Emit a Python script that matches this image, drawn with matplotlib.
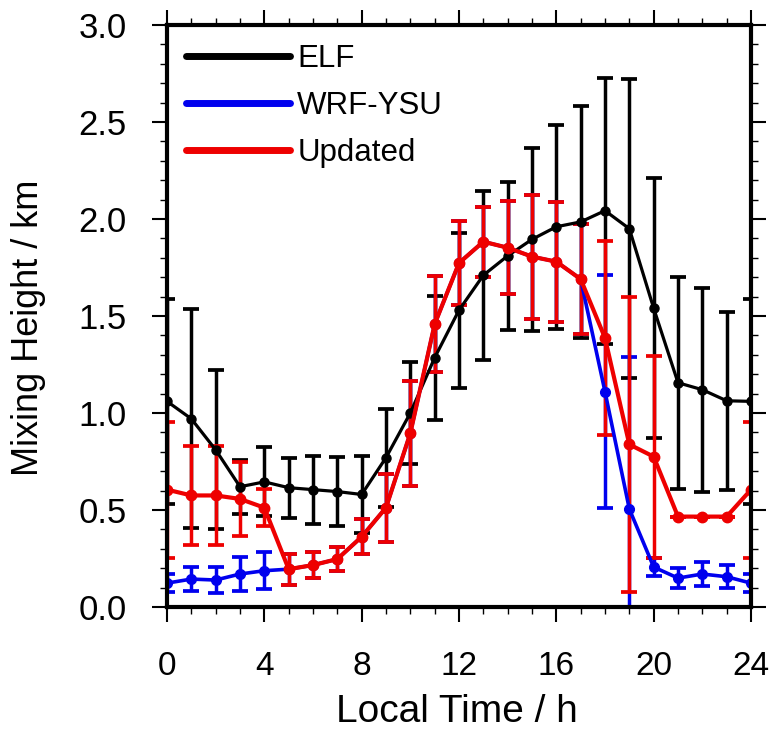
import numpy as np
import matplotlib
matplotlib.use('Agg')
import matplotlib.pyplot as plt
from matplotlib.lines import Line2D
from matplotlib.ticker import MultipleLocator, FormatStrFormatter

plt.rcParams['font.family'] = ['Liberation Sans', 'DejaVu Sans']

# diurnal mixing height (km), hourly, local time 0..24
hours = np.arange(0, 25)

elf = [1.06, 0.97, 0.81, 0.62, 0.645, 0.615, 0.605, 0.595, 0.58, 0.77,
       1.00, 1.285, 1.53, 1.71, 1.81, 1.895, 1.96, 1.985, 2.043, 1.95,
       1.54, 1.156, 1.12, 1.063, 1.06]
elf_err = [0.53, 0.565, 0.41, 0.14, 0.178, 0.155, 0.175, 0.18, 0.2, 0.253,
           0.265, 0.32, 0.40, 0.435, 0.38, 0.47, 0.525, 0.6, 0.685, 0.77,
           0.67, 0.546, 0.525, 0.46, 0.53]

ysu = [0.123, 0.144, 0.139, 0.17, 0.187, 0.195, 0.216, 0.247, 0.362, 0.512,
       0.896, 1.458, 1.773, 1.883, 1.852, 1.806, 1.78, 1.69, 1.11, 0.505,
       0.206, 0.149, 0.17, 0.156, 0.123]
ysu_err = [0.048, 0.06, 0.068, 0.09, 0.096, 0.08, 0.067, 0.062, 0.09, 0.175,
           0.27, 0.247, 0.217, 0.18, 0.24, 0.32, 0.31, 0.285, 0.6, 0.785,
           0.048, 0.05, 0.06, 0.06, 0.048]

updated = [0.605, 0.575, 0.575, 0.557, 0.512, 0.195, 0.216, 0.247, 0.362, 0.512,
           0.896, 1.458, 1.773, 1.883, 1.852, 1.806, 1.78, 1.69, 1.387, 0.838,
           0.775, 0.466, 0.466, 0.466, 0.605]
updated_err = [0.35, 0.255, 0.255, 0.19, 0.095, 0.08, 0.067, 0.062, 0.09, 0.175,
               0.27, 0.247, 0.217, 0.18, 0.24, 0.32, 0.31, 0.285, 0.5, 0.76,
               0.52, 0.0, 0.0, 0.0, 0.35]

labels = ['ELF', 'WRF-YSU', 'Updated']
colors = ['black', '#0000ee', '#ee0000']

fig = plt.figure(figsize=(7.71, 7.38), dpi=100)
ax = fig.add_axes([167 / 771, 131 / 738, 584 / 771, 582 / 738])

# drawn in this order so the red curve sits on top
series = [(elf, elf_err, 2.3, 6.5), (ysu, ysu_err, 2.6, 7), (updated, updated_err, 3.0, 7.5)]
for (vals, err, lw, ms), col in zip(series, colors):
    ax.errorbar(hours, vals, yerr=err, color=col, lw=lw, elinewidth=2.5,
                capsize=6, capthick=2.7, marker='o', ms=ms, mec=col, mfc=col)

ax.set_xlim(0, 24)
ax.set_ylim(0, 3.0)
ax.xaxis.set_major_locator(MultipleLocator(4))
ax.xaxis.set_minor_locator(MultipleLocator(1))
ax.yaxis.set_major_locator(MultipleLocator(0.5))
ax.yaxis.set_minor_locator(MultipleLocator(0.1))
ax.yaxis.set_major_formatter(FormatStrFormatter('%.1f'))

ax.tick_params(which='both', direction='out', top=True, right=True,
               labeltop=False, labelright=False)
ax.tick_params(which='major', length=11, width=1.5, pad=19)
ax.tick_params(which='minor', length=5, width=1.0)
ax.tick_params(axis='y', which='major', labelsize=25, pad=18)
ax.tick_params(axis='x', which='major', labelsize=24, pad=21)
for sp in ax.spines.values():
    sp.set_linewidth(3)

ax.set_xlabel('Local Time / h', fontsize=28)
ax.set_ylabel('Mixing Height / km', fontsize=26)
ax.xaxis.set_label_coords(0.497, -0.149)
ax.yaxis.set_label_coords(-0.208, 0.48)

handles = [Line2D([], [], color=c, lw=5, solid_capstyle='round') for c in colors]
ax.legend(handles, labels, loc='upper left', frameon=False, fontsize=22.5,
          handlelength=3.3, handletextpad=0.25, labelspacing=0.54,
          borderaxespad=0.22, bbox_to_anchor=(0.0, 1.0))

fig.savefig('out.png', dpi=100)
